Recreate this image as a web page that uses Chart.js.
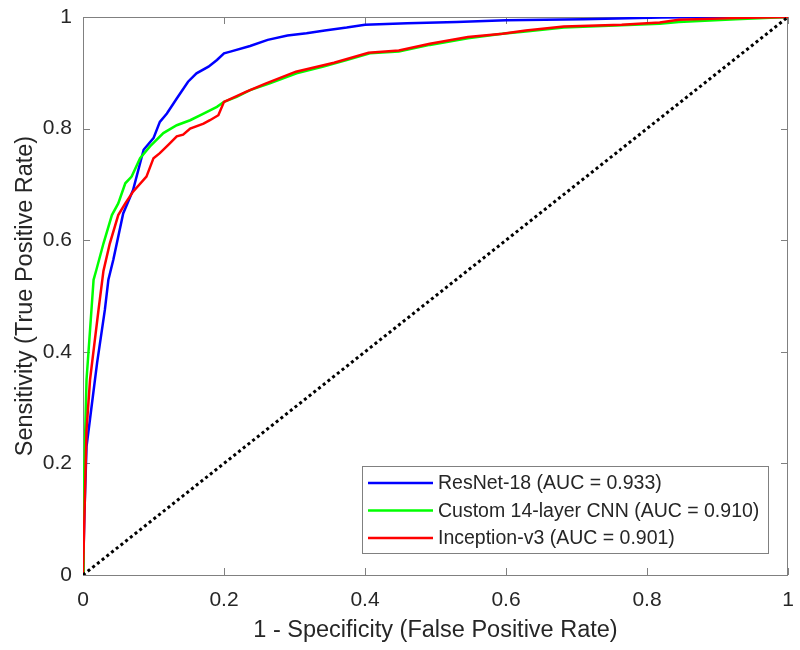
<!DOCTYPE html>
<html>
<head>
<meta charset="utf-8">
<script src="https://cdn.jsdelivr.net/npm/chart.js@4"></script>
<style>
  body { margin: 0; background: #fff; }
  #wrap { width: 800px; height: 650px; }
</style>
</head>
<body>
<div id="wrap"><canvas id="roc" width="800" height="650"></canvas></div>
<script>
// ROC curves (x = false positive rate, y = true positive rate)
const fprResNet = [0, 0.002, 0.005, 0.01, 0.02, 0.031, 0.036, 0.043, 0.057, 0.071, 0.086, 0.10, 0.109, 0.119, 0.133, 0.149, 0.161, 0.178, 0.19, 0.2, 0.209, 0.237, 0.262, 0.29, 0.317, 0.343, 0.374, 0.40, 0.46, 0.53, 0.60, 0.71, 0.82, 0.9, 1];
const tprResNet = [0, 0.11, 0.23, 0.28, 0.38, 0.475, 0.529, 0.565, 0.648, 0.69, 0.762, 0.783, 0.812, 0.827, 0.854, 0.884, 0.899, 0.911, 0.923, 0.935, 0.938, 0.948, 0.959, 0.967, 0.971, 0.976, 0.981, 0.986, 0.989, 0.991, 0.994, 0.996, 0.999, 1, 1];

const fprCustom = [0, 0.001, 0.005, 0.012, 0.015, 0.019, 0.029, 0.041, 0.05, 0.06, 0.069, 0.081, 0.095, 0.114, 0.133, 0.152, 0.171, 0.19, 0.2, 0.218, 0.237, 0.265, 0.303, 0.341, 0.374, 0.407, 0.448, 0.492, 0.546, 0.595, 0.628, 0.682, 0.764, 0.818, 0.845, 0.926, 1];
const tprCustom = [0, 0.15, 0.35, 0.475, 0.529, 0.547, 0.594, 0.645, 0.666, 0.702, 0.714, 0.747, 0.768, 0.792, 0.806, 0.815, 0.827, 0.839, 0.848, 0.857, 0.869, 0.881, 0.899, 0.911, 0.923, 0.935, 0.938, 0.95, 0.962, 0.97, 0.974, 0.981, 0.985, 0.988, 0.991, 0.996, 1];

const fprInception = [0, 0.005, 0.01, 0.022, 0.029, 0.038, 0.05, 0.06, 0.071, 0.09, 0.10, 0.109, 0.121, 0.133, 0.142, 0.152, 0.171, 0.18, 0.192, 0.20, 0.231, 0.258, 0.302, 0.356, 0.405, 0.448, 0.492, 0.546, 0.595, 0.628, 0.682, 0.764, 0.818, 0.845, 0.926, 1];
const tprInception = [0, 0.26, 0.35, 0.475, 0.545, 0.594, 0.645, 0.666, 0.687, 0.714, 0.747, 0.756, 0.771, 0.786, 0.789, 0.80, 0.809, 0.815, 0.824, 0.848, 0.866, 0.88, 0.902, 0.918, 0.936, 0.94, 0.952, 0.964, 0.97, 0.976, 0.983, 0.986, 0.99, 0.995, 0.998, 1];

const chanceX = [0, 1];
const chanceY = [0, 1];

const modelLabels = ['ResNet-18 (AUC = 0.933)', 'Custom 14-layer CNN (AUC = 0.910)', 'Inception-v3 (AUC = 0.901)'];
const tickValues = [0, 0.2, 0.4, 0.6, 0.8, 1];

const FONT = "'Liberation Sans', Arial, Helvetica, sans-serif";
const TEXT = '#262626';
const AXIS = '#808080';

function toPoints(xs, ys) {
  return xs.map((x, i) => ({ x: x, y: ys[i] }));
}

// box, inward ticks (MATLAB style)
const axesBox = {
  id: 'axesBox',
  beforeDatasetsDraw(chart) {
    const { ctx, chartArea: a, scales } = chart;
    ctx.save();
    ctx.strokeStyle = AXIS;
    ctx.lineWidth = 1;
    ctx.strokeRect(a.left + 0.5, a.top + 0.5, a.width - 1, a.height);
    const len = 7;
    ctx.beginPath();
    scales.x.ticks.forEach((t) => {
      const px = Math.round(scales.x.getPixelForValue(t.value)) + 0.5;
      ctx.moveTo(px, a.bottom); ctx.lineTo(px, a.bottom - len);
      ctx.moveTo(px, a.top); ctx.lineTo(px, a.top + len);
    });
    scales.y.ticks.forEach((t) => {
      const py = Math.round(scales.y.getPixelForValue(t.value)) + 0.5;
      ctx.moveTo(a.left, py); ctx.lineTo(a.left + len, py);
      ctx.moveTo(a.right, py); ctx.lineTo(a.right - len, py);
    });
    ctx.stroke();
    ctx.restore();
  },
};

// legend box in the lower right corner of the plot
const boxLegend = {
  id: 'boxLegend',
  afterDraw(chart) {
    const { ctx, chartArea: a } = chart;
    const items = chart.data.datasets.filter((d) => d.label);
    const left = a.right - 426;
    const top = a.bottom - 109;
    const width = 406;
    const height = 87;
    ctx.save();
    ctx.fillStyle = '#fff';
    ctx.fillRect(left, top, width, height);
    ctx.strokeStyle = AXIS;
    ctx.lineWidth = 1;
    ctx.strokeRect(left + 0.5, top + 0.5, width, height);
    ctx.font = '19.5px ' + FONT;
    ctx.textBaseline = 'middle';
    ctx.textAlign = 'left';
    items.forEach((d, i) => {
      const y = top + 17 + i * 27.5;
      ctx.strokeStyle = d.borderColor;
      ctx.lineWidth = 2.5;
      ctx.beginPath();
      ctx.moveTo(left + 6, y);
      ctx.lineTo(left + 71, y);
      ctx.stroke();
      ctx.fillStyle = TEXT;
      ctx.fillText(d.label, left + 76, y + 1);
    });
    ctx.restore();
  },
};

const ctx = document.getElementById('roc').getContext('2d');
new Chart(ctx, {
  type: 'scatter',
  data: {
    datasets: [
      {
        label: modelLabels[0],
        data: toPoints(fprResNet, tprResNet),
        borderColor: '#0000ff',
        order: 4,
      },
      {
        label: modelLabels[1],
        data: toPoints(fprCustom, tprCustom),
        borderColor: '#00ff00',
        order: 3,
      },
      {
        label: modelLabels[2],
        data: toPoints(fprInception, tprInception),
        borderColor: '#ff0000',
        order: 2,
      },
      {
        label: '',
        data: toPoints(chanceX, chanceY),
        borderColor: '#000000',
        borderWidth: 3,
        borderDash: [3, 3],
        borderCapStyle: 'butt',
        order: 1,
      },
    ],
  },
  options: {
    responsive: false,
    animation: false,
    devicePixelRatio: 1,
    showLine: true,
    elements: {
      point: { radius: 0, hoverRadius: 0 },
      line: { borderWidth: 2.5, tension: 0, fill: false },
    },
    layout: { padding: { top: 17, right: 12, left: 0, bottom: 0 } },
    plugins: {
      legend: { display: false },
      tooltip: { enabled: false },
    },
    scales: {
      x: {
        type: 'linear',
        min: 0,
        max: 1,
        afterFit: (scale) => {
          scale.height = 75;
          scale.paddingLeft = 0;
          scale.paddingRight = 0;
        },
        afterBuildTicks: (scale) => { scale.ticks = tickValues.map((v) => ({ value: v })); },
        grid: { display: false, drawTicks: false },
        border: { display: false },
        ticks: {
          padding: 13,
          color: TEXT,
          font: { family: FONT, size: 21 },
          maxRotation: 0,
          callback: (v) => String(v),
        },
        title: {
          display: true,
          text: '1 - Specificity (False Positive Rate)',
          color: TEXT,
          font: { family: FONT, size: 23.5, lineHeight: 1.2 },
          padding: { top: 0, bottom: 5 },
        },
      },
      y: {
        type: 'linear',
        min: 0,
        max: 1,
        afterFit: (scale) => {
          scale.width = 83;
          scale.paddingTop = 0;
          scale.paddingBottom = 0;
        },
        afterBuildTicks: (scale) => { scale.ticks = tickValues.map((v) => ({ value: v })); },
        grid: { display: false, drawTicks: false },
        border: { display: false },
        ticks: {
          padding: 11,
          color: TEXT,
          font: { family: FONT, size: 21 },
          callback: (v) => String(v),
        },
        title: {
          display: true,
          text: 'Sensitivity (True Positive Rate)',
          color: TEXT,
          font: { family: FONT, size: 23.5, lineHeight: 1.2 },
          padding: { top: 11, bottom: 0 },
        },
      },
    },
  },
  plugins: [axesBox, boxLegend],
});
</script>
</body>
</html>
